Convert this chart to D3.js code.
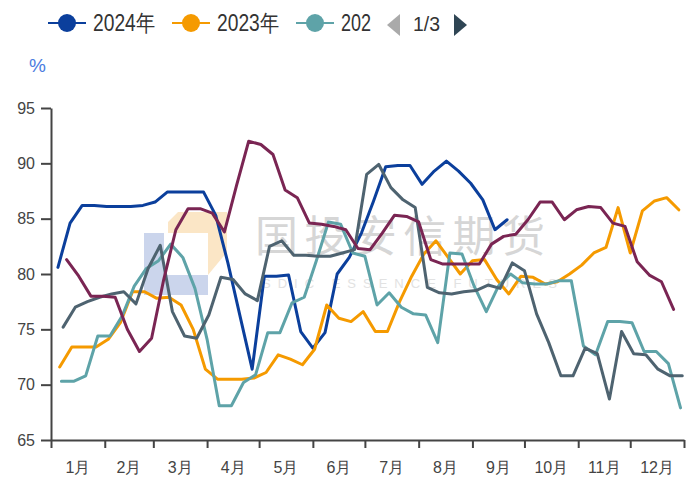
<!DOCTYPE html>
<html>
<head>
<meta charset="utf-8">
<script src="https://cdn.jsdelivr.net/npm/d3@7"></script>
<style>
  body { margin: 0; background: #fff; }
  svg { display: block; font-family: "Liberation Sans", Arial, sans-serif; }
</style>
</head>
<body>
<svg id="chart" width="698" height="479"></svg>
<script>
// weekly capacity utilisation, %, one value per week
var monthLabels = ["1月", "2月", "3月", "4月", "5月", "6月", "7月", "8月", "9月", "10月", "11月", "12月"]
var yTicks = [65, 70, 75, 80, 85, 90, 95]

var seriesNames = ["2024年", "2023年", "2022年", "2021年", "2020年"]
var seriesColors = ["#0b3f9c", "#f59a00", "#5ea3a8", "#4e6370", "#7a2553"]
var seriesStarts = ["2024-01-05", "2023-01-06", "2022-01-07", "2021-01-08", "2020-01-10"]

var values2024 = [80.6, 84.6, 86.2, 86.2, 86.1, 86.1, 86.1, 86.2, 86.5, 87.4,
    87.4, 87.4, 87.4, 85.3, 81.0, 76.2, 71.4, 79.8, 79.8, 79.9,
    74.8, 73.3, 74.7, 80.0, 81.5, 83.7, 86.6, 89.7, 89.8, 89.8,
    88.1, 89.3, 90.2, 89.3, 88.2, 86.7, 84.0, 84.9]

var values2023 = [71.6, 73.4, 73.4, 73.4, 74.1, 75.6, 78.4, 78.4, 77.8, 77.9,
    77.2, 75.0, 71.4, 70.5, 70.5, 70.5, 70.6, 71.1, 72.7, 72.3,
    71.8, 73.2, 77.2, 76.0, 75.7, 76.6, 74.8, 74.8, 77.5, 79.8,
    81.8, 83.0, 81.5, 80.0, 81.2, 81.3, 79.5, 78.2, 79.8, 79.7,
    79.1, 79.3, 80.0, 80.8, 81.9, 82.4, 86.0, 81.9, 85.7, 86.6,
    86.9, 85.8]

var values2022 = [70.3, 70.3, 70.8, 74.4, 74.4, 76.2, 78.9, 80.5, 81.2, 82.7,
    81.5, 78.7, 74.1, 68.1, 68.1, 70.2, 70.9, 74.7, 74.7, 77.4,
    77.9, 81.2, 84.7, 84.5, 81.9, 81.6, 77.2, 78.3, 77.0, 76.4,
    76.3, 73.8, 81.9, 81.8, 78.9, 76.6, 78.9, 80.0, 79.2, 79.1,
    79.1, 79.4, 79.4, 73.5, 72.7, 75.7, 75.7, 75.6, 73.0, 73.0,
    71.9, 67.9]

var values2021 = [75.2, 77.0, 77.5, 77.9, 78.2, 78.4, 77.3, 80.5, 82.6, 76.6,
    74.4, 74.2, 76.3, 79.7, 79.5, 78.2, 77.6, 82.5, 83.0, 81.7,
    81.7, 81.6, 81.6, 81.9, 82.2, 89.0, 89.9, 87.8, 86.7, 86.0,
    78.8, 78.3, 78.2, 78.4, 78.5, 79.0, 78.7, 81.0, 80.3, 76.4,
    73.8, 70.8, 70.8, 73.3, 72.8, 68.7, 74.8, 72.8, 72.7, 71.4,
    70.8, 70.8]

var values2020 = [81.3, 79.8, 78.0, 78.0, 77.9, 75.0, 73.0, 74.2, 79.5, 84.0,
    85.9, 85.9, 85.5, 83.8, 88.0, 92.0, 91.7, 90.8, 87.6, 86.9,
    84.6, 84.5, 84.3, 84.0, 82.3, 82.2, 83.7, 85.3, 85.2, 84.7,
    81.3, 80.9, 80.9, 80.9, 80.9, 82.7, 83.4, 83.6, 84.9, 86.5,
    86.5, 84.9, 85.8, 86.1, 86.0, 84.6, 84.3, 81.1, 79.9, 79.3,
    76.8]

var seriesValues = [values2024, values2023, values2022, values2021, values2020]

var svg = d3.select("#chart")

var plotLeft = 51, plotRight = 684, plotTop = 108, plotBottom = 440

// all years are laid onto one calendar year
var refStart = new Date(2001, 0, 1)
var refEnd = new Date(2002, 0, 1)

var x = d3.scaleTime().domain([refStart, refEnd]).range([plotLeft, plotRight])
var y = d3.scaleLinear().domain([65, 95]).range([plotBottom, plotTop])

function onRefYear(dateString, week) {
    var date = d3.timeDay.offset(d3.timeParse("%Y-%m-%d")(dateString), week * 7)
    var dayOfYear = d3.timeDay.count(d3.timeYear.floor(date), date)
    return d3.timeDay.offset(refStart, dayOfYear)
}

// watermark
var mark = svg.append("g").attr("class", "watermark")
mark.append("rect").attr("x", 144).attr("y", 233).attr("width", 20).attr("height", 62).attr("fill", "#cbd5ec")
mark.append("rect").attr("x", 164).attr("y", 275).attr("width", 44).attr("height", 20).attr("fill", "#cbd5ec")
mark.append("path")
    .attr("d", "M168,222 L178,212 L227,212 L227,252 L208,275 L208,233 L168,233 Z")
    .attr("fill", "#fbe6c6")
mark.append("text")
    .attr("x", 255).attr("y", 252)
    .attr("font-size", 43)
    .attr("font-family", "'Noto Sans CJK SC', sans-serif")
    .attr("fill", "#d6d6d6")
    .attr("textLength", 290)
    .text("国投安信期货")
mark.append("text")
    .attr("x", 262).attr("y", 288)
    .attr("font-size", 13)
    .attr("fill", "#e2e2e2")
    .attr("letter-spacing", 7)
    .text("SDIC ESSENCE FUTURES")

// y axis
var yAxis = svg.append("g")
    .attr("transform", "translate(" + plotLeft + ",0)")
    .call(d3.axisLeft(y).tickValues(yTicks).tickSize(10).tickSizeOuter(0).tickPadding(6))
yAxis.select(".domain").attr("stroke", "#444").attr("stroke-width", 2)
yAxis.selectAll(".tick line").attr("stroke", "#444").attr("stroke-width", 2)
yAxis.selectAll(".tick text").attr("font-size", 16).attr("fill", "#444").attr("font-family", "'Liberation Sans', Arial, sans-serif")

// x axis, ticks on month edges, labels in the middle of months
var monthEdges = d3.timeMonth.range(refStart, d3.timeDay.offset(refEnd, 1))
var xAxis = svg.append("g")
    .attr("transform", "translate(0," + plotBottom + ")")
    .call(d3.axisBottom(x).tickValues(monthEdges).tickSize(8).tickSizeOuter(0).tickFormat(""))
xAxis.select(".domain").attr("stroke", "#444").attr("stroke-width", 2)
xAxis.selectAll(".tick line").attr("stroke", "#444").attr("stroke-width", 2)

svg.append("g").selectAll("text")
    .data(monthLabels)
    .join("text")
    .attr("x", function (d, i) { return (x(monthEdges[i]) + x(monthEdges[i + 1])) / 2 })
    .attr("y", plotBottom + 33)
    .attr("text-anchor", "middle")
    .attr("font-size", 16)
    .attr("fill", "#444")
    .text(function (d) { return d })

svg.append("text")
    .attr("x", 29).attr("y", 72)
    .attr("font-size", 19)
    .attr("fill", "#4b7be0")
    .text("%")

// lines
var line = d3.line()
    .x(function (d) { return x(d.date) })
    .y(function (d) { return y(d.value) })

var lineData = seriesValues.map(function (values, s) {
    return values.map(function (v, i) { return { date: onRefYear(seriesStarts[s], i), value: v } })
})

svg.append("g").selectAll("path")
    .data(lineData)
    .join("path")
    .attr("d", line)
    .attr("fill", "none")
    .attr("stroke", function (d, i) { return seriesColors[i] })
    .attr("stroke-width", 3)
    .attr("stroke-linejoin", "round")
    .attr("stroke-linecap", "round")

// legend, first page of three
var legendX = [48, 172, 296]
var legendTextWidth = [62, 62, 30]
var legend = svg.append("g")
var items = legend.selectAll("g")
    .data([0, 1, 2])
    .join("g")
    .attr("transform", function (d) { return "translate(" + legendX[d] + ",23)" })
items.append("line")
    .attr("x1", 0).attr("x2", 38)
    .attr("stroke", function (d) { return seriesColors[d] })
    .attr("stroke-width", 2)
items.append("circle")
    .attr("cx", 19).attr("r", 9)
    .attr("fill", function (d) { return seriesColors[d] })
items.append("text")
    .attr("x", 45).attr("y", 8)
    .attr("font-size", 23)
    .attr("fill", "#333")
    .attr("textLength", function (d) { return legendTextWidth[d] })
    .attr("lengthAdjust", "spacingAndGlyphs")
    .text(function (d) { return d == 2 ? seriesNames[d].slice(0, 3) : seriesNames[d] })

legend.append("path").attr("d", "M400,14 L400,36 L387,25 Z").attr("fill", "#aaa")
legend.append("text")
    .attr("x", 413).attr("y", 31)
    .attr("font-size", 20)
    .attr("fill", "#333")
    .attr("textLength", 27)
    .attr("lengthAdjust", "spacingAndGlyphs")
    .text("1/3")
legend.append("path").attr("d", "M454,14 L454,36 L467,25 Z").attr("fill", "#2f4554")
</script>
</body>
</html>
